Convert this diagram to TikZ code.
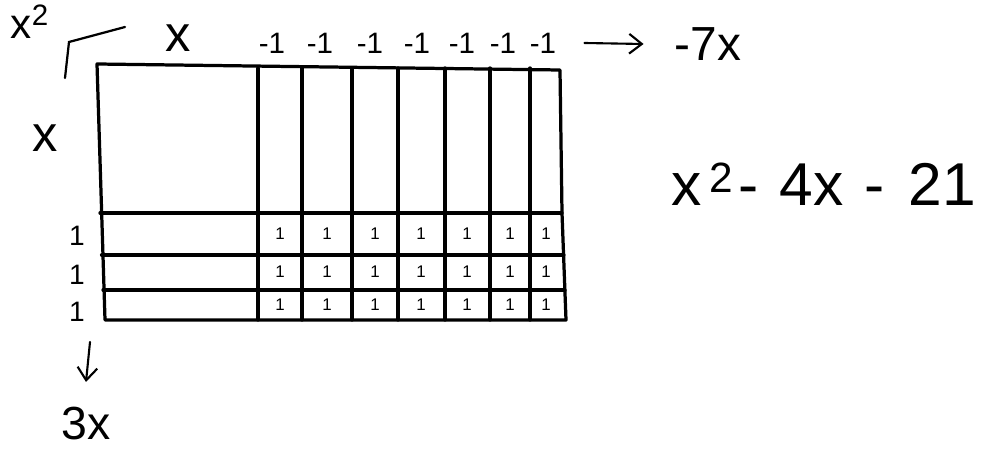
\documentclass[tikz,border=0pt]{standalone}
\usepackage{fontspec}
\setmainfont{Liberation Sans}
\usetikzlibrary{arrows.meta}

\begin{document}
\begin{tikzpicture}[
		x=0.025cm, y=-0.025cm,
		tile/.style={line width=2.3pt, line join=round, line cap=round},
		lbl/.style={font=\fontsize{#1}{#1}\selectfont, inner sep=0pt},
		arr/.style={line width=1.5pt, line cap=round, -{Straight Barb[length=9pt, width=14pt, line width=1.5pt]}}
		]
		\useasboundingbox (0,0) rectangle (1007,452);
		
		% Outer frame of the algebra tiles
		\draw[tile] (97,64) -- (560,70) -- (562,213) -- (566,320) -- (105,320) -- cycle;
		
		% Row lines of the three unit strips
		\draw[tile] (100,213) -- (562,213);
		\draw[tile, line width=3pt] (102,255) -- (258,255);
		\draw[tile] (258,255) -- (564,255);
		\draw[tile] (103,290) -- (565,290);
		
		% Column lines of the seven x strips
		\foreach \cx in {258,302,352,398,445,490,530}
		\draw[tile] (\cx,68) -- (\cx,320);
		
		% Unit tiles marked with 1
		\foreach \cx in {280,327,375,421,467,510,546}
		\foreach \cy in {234,272,305}
		\node[lbl=12pt] at (\cx,\cy) {1};
		
		% Labels along the top
		\node[lbl=30pt] (sq) at (30,22) {x\textsuperscript{2}};
		\draw[line width=1.6pt, line cap=round] (65,78) -- (69,42) -- (125,27);
		\node[lbl=36pt] (topx) at (178,38) {x};
		\foreach \cx [count=\i] in {272,320,370,417,462,503,543}
		\node[lbl=21pt] (neg\i) at (\cx,43) {-1};
		\node[lbl=34pt] (sevenx) at (708,44) {-7x};
		\draw[arr] ([xshift=20pt]neg7.east) -- ([xshift=-22pt]sevenx.west);
		
		% Labels down the left side
		\node[lbl=36pt] (leftx) at (45,138) {x};
		\foreach \cy [count=\i] in {236,275,312}
		\node[lbl=20pt] (one\i) at (77,\cy) {1};
		\node[lbl=33pt] (threex) at (86,424) {3x};
		\coordinate (arrtop) at (90,342);
		\draw[arr] (arrtop) -- ([yshift=18pt]threex.north);
		
		% Resulting expression
		\node[lbl=43pt] (expr) at (824,184) {x\textsuperscript{\,2}\hspace{0.08em}-\hspace{0.35em}4x\hspace{0.35em}-\hspace{0.4em}21};
		
	\end{tikzpicture}
\end{document}
